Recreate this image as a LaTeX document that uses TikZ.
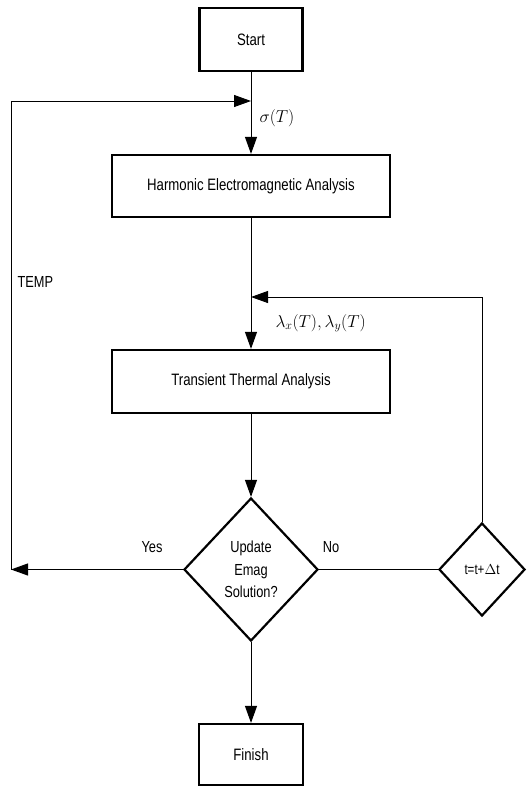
\documentclass[tikz,border=0pt]{standalone}
\usepackage{fontspec}
\setmainfont{Liberation Sans}[FakeStretch=0.8]
\usetikzlibrary{shapes.geometric,arrows.meta}
\tikzset{
  box/.style={draw,line width=2.2pt,rectangle,inner sep=0pt,font=\fontsize{16.5}{18}\selectfont},
  dec/.style={draw,line width=2.2pt,diamond,inner sep=0pt,align=center,font=\fontsize{16}{22.5}\selectfont},
  conn/.style={line width=1pt},
  arr/.style={conn,-{Triangle[length=17pt,width=12pt]}},
  lbl/.style={font=\fontsize{16}{18}\selectfont},
  mlbl/.style={font=\fontsize{17}{19}\selectfont}
}
\begin{document}
\begin{tikzpicture}[x=1pt,y=-1pt]
\useasboundingbox (0,0) rectangle (528,787);
\node[box,minimum width=103pt,minimum height=63pt] (start) at (251,39.5) {Start};
\node[box,minimum width=278pt,minimum height=62pt] (harm) at (251,186) {Harmonic Electromagnetic Analysis};
\node[box,minimum width=278pt,minimum height=63pt] (trans) at (251,381.5) {Transient Thermal Analysis};
\node[dec,minimum width=134pt,minimum height=143pt] (upd) at (251,569.5) {Update\\Emag\\Solution?};
\node[dec,minimum width=86pt,minimum height=93pt,font=\fontsize{14.5}{16}\selectfont] (dt) at (482,569.5) {t=t+$\Delta$t};
\node[box,minimum width=104pt,minimum height=61pt] (finish) at (251,754.5) {Finish};
\coordinate (j1) at (251,101);
\coordinate (j2) at (251,297);
\coordinate (lt) at (11,101);
\coordinate (lb) at (11,569.5);
\coordinate (rt) at (482,297);
\draw[conn] (start.south) -- (j1);
\draw[arr] (j1) -- (harm.north);
\draw[conn] (harm.south) -- (j2);
\draw[arr] (j2) -- (trans.north);
\draw[arr] (trans.south) -- (upd.north);
\draw[arr] (upd.south) -- (finish.north);
\draw[arr] (upd.west) -- (lb);
\draw[arr] (lb) -- (lt) -- (j1);
\draw[conn] (upd.east) -- (dt.west);
\draw[arr] (dt.north) -- (rt) -- (j2);
\node[lbl] (yes) at (152,547) {Yes};
\node[lbl] (no) at (331,547) {No};
\node[lbl,anchor=west] (temp) at (14,282) {TEMP};
\node[mlbl,anchor=west] (sig) at (256,118) {$\sigma(T)$};
\node[mlbl,anchor=west] (lam) at (272,323) {$\lambda_x(T),\lambda_y(T)$};
\end{tikzpicture}
\end{document}
